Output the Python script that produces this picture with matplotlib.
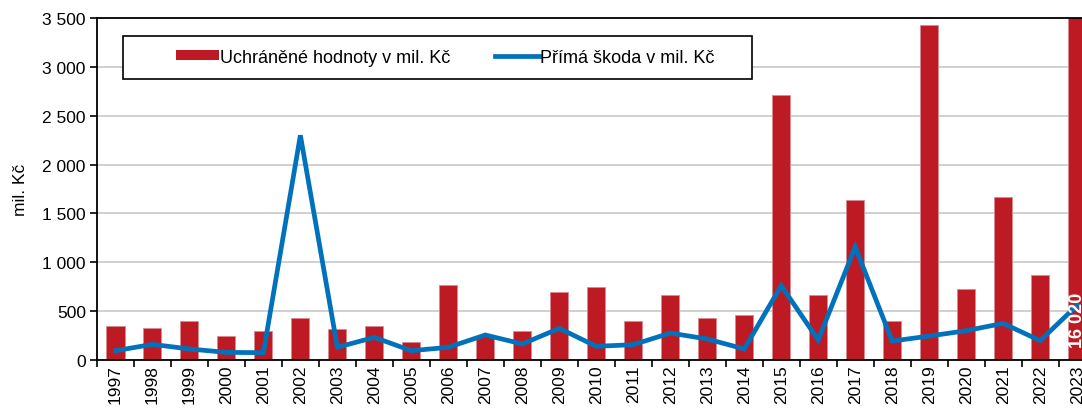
import numpy as np
import matplotlib
matplotlib.use('Agg')
import matplotlib.pyplot as plt
from matplotlib.patches import Patch, Rectangle
from matplotlib.lines import Line2D
from matplotlib.ticker import FuncFormatter

plt.rcParams['font.family'] = ['Liberation Sans', 'DejaVu Sans']

# Data
years = [str(y) for y in range(1997, 2024)]
uchranene = [345, 327, 396, 246, 297, 430, 314, 345, 181, 768,
             250, 297, 699, 750, 396, 665, 430, 464, 2710, 665,
             1638, 396, 3430, 730, 1665, 870, 16020]
prima_skoda = [95, 160, 113, 78, 75, 2300, 130, 232, 95, 130,
               256, 164, 324, 140, 157, 276, 215, 113, 761, 205,
               1157, 194, 245, 300, 375, 198, 560]

red = '#BE1A24'
blue = '#0072BC'
fs = 12.5

fig = plt.figure(figsize=(10.82, 4.10), dpi=100)
# osa presahuje pravy okraj obrazku (jako v puvodnim vyrezu)
ax = fig.add_axes([0.0896, 0.1195, 0.923, 0.834])

x = np.arange(len(years))
ax.bar(x, uchranene, width=0.49, color=red, edgecolor='#D98A90', linewidth=0.6, zorder=2)
ax.plot(x, prima_skoda, color=blue, linewidth=3.4, zorder=3, solid_joinstyle='miter')

# popisek useknuteho sloupce 2023
ax.text(x[-1], 130, '16 020', rotation=90, color='white', fontweight='bold',
        fontsize=13, ha='center', va='bottom', zorder=4)

ax.set_xlim(-0.5, len(years) - 0.5)
ax.set_ylim(0, 3500)
ax.set_yticks(np.arange(0, 3501, 500))
ax.yaxis.set_major_formatter(FuncFormatter(lambda v, p: f'{int(v):,}'.replace(',', ' ')))
ax.yaxis.grid(True, color='#C8C8C8', linewidth=1.2, zorder=0)
ax.set_axisbelow(True)

ax.set_xticks(np.arange(-0.5, len(years), 1))
ax.set_xticklabels([])
ax.set_xticks(x, minor=True)
ax.set_xticklabels(years, minor=True, rotation=90)
ax.tick_params(axis='x', which='major', length=5, width=1.2, direction='out')
ax.tick_params(axis='x', which='minor', length=0, pad=3, labelsize=fs)
ax.tick_params(axis='y', length=5, width=1.2, labelsize=fs, pad=3)

for s in ['left', 'bottom', 'top']:
    ax.spines[s].set_linewidth(1.3)
    ax.spines[s].set_color('black')
ax.spines['right'].set_visible(False)

ax.set_ylabel('mil. Kč', fontsize=fs, labelpad=10)

# ramecek legendy
ax.add_patch(Rectangle((0.026, 0.822), 0.63, 0.125, transform=ax.transAxes,
                       facecolor='white', edgecolor='black', linewidth=1.2, zorder=5))
handles = [Patch(facecolor=red, edgecolor='none'),
           Line2D([0], [0], color=blue, linewidth=3.4)]
leg = ax.legend(handles, ['Uchráněné hodnoty v mil. Kč', 'Přímá škoda v mil. Kč'],
                loc='center left', bbox_to_anchor=(0.079, 0.886),
                ncol=2, fontsize=13, frameon=False,
                handlelength=2.4, handleheight=0.45, handletextpad=0.05,
                borderpad=0, borderaxespad=0, columnspacing=2.5)
leg.set_zorder(6)

fig.savefig('out.png', dpi=100)
